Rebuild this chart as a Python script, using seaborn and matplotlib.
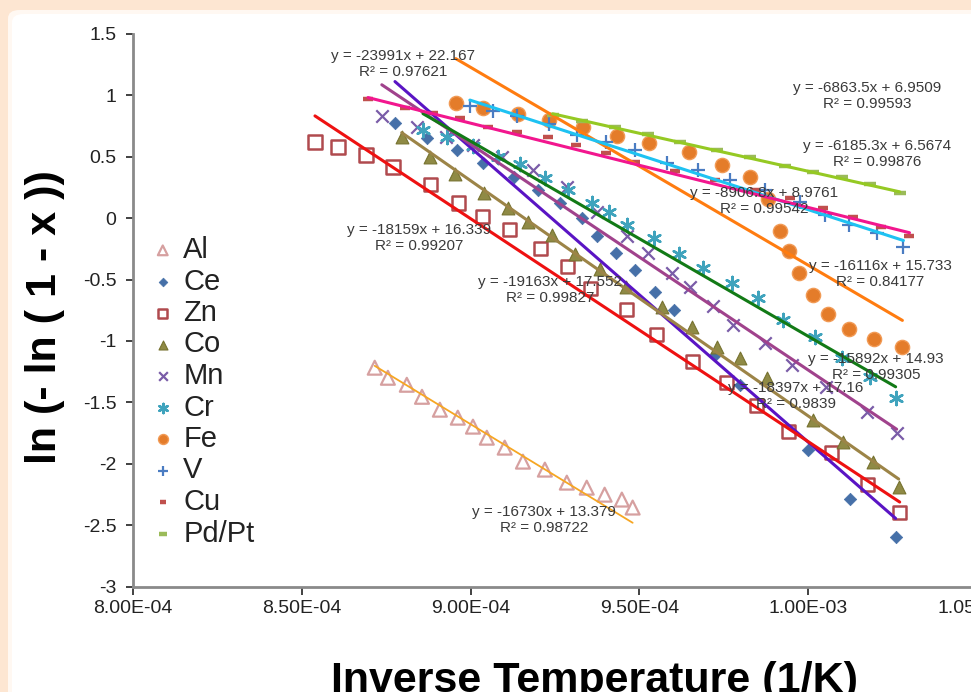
import numpy as np
import matplotlib
matplotlib.use("Agg")
import matplotlib.pyplot as plt
from matplotlib.patches import FancyBboxPatch
from matplotlib.ticker import FixedLocator, FuncFormatter
import seaborn as sns

sns.set_style("ticks")
plt.rcParams["font.family"] = ["Liberation Sans", "DejaVu Sans"]
plt.rcParams["axes.unicode_minus"] = False

# ---- data: inverse temperature (1/K) vs ln(-ln(1-x)) ----
metals = ["Al", "Ce", "Zn", "Co", "Mn", "Cr", "Fe", "V", "Cu", "Pd/Pt"]

al_x = [8.716e-4, 8.755e-4, 8.811e-4, 8.856e-4, 8.909e-4, 8.962e-4, 9.007e-4, 9.048e-4,
        9.101e-4, 9.155e-4, 9.220e-4, 9.285e-4, 9.344e-4, 9.397e-4, 9.448e-4, 9.480e-4]
al_y = [-1.218, -1.300, -1.357, -1.455, -1.560, -1.625, -1.698, -1.788,
        -1.869, -1.983, -2.048, -2.154, -2.195, -2.252, -2.292, -2.357]

ce_x = [8.776e-4, 8.870e-4, 8.959e-4, 9.036e-4, 9.128e-4, 9.199e-4, 9.264e-4, 9.329e-4, 9.374e-4,
        9.430e-4, 9.486e-4, 9.545e-4, 9.602e-4, 9.723e-4, 9.797e-4, 9.998e-4, 1.0123e-3, 1.0259e-3]
ce_y = [0.775, 0.653, 0.556, 0.450, 0.336, 0.230, 0.124, 0.002, -0.144,
        -0.282, -0.421, -0.600, -0.746, -1.112, -1.356, -1.885, -2.284, -2.593]

zn_x = [8.539e-4, 8.607e-4, 8.690e-4, 8.770e-4, 8.882e-4, 8.965e-4, 9.036e-4, 9.116e-4, 9.208e-4, 9.288e-4,
        9.356e-4, 9.462e-4, 9.551e-4, 9.658e-4, 9.758e-4, 9.847e-4, 9.942e-4, 1.0069e-3, 1.0176e-3, 1.0271e-3]
zn_y = [0.621, 0.580, 0.515, 0.417, 0.271, 0.124, 0.011, -0.095, -0.250, -0.396,
        -0.575, -0.746, -0.950, -1.169, -1.340, -1.527, -1.739, -1.910, -2.170, -2.398]

co_x = [8.796e-4, 8.879e-4, 8.953e-4, 9.039e-4, 9.110e-4, 9.169e-4, 9.240e-4, 9.308e-4, 9.382e-4, 9.459e-4,
        9.566e-4, 9.655e-4, 9.729e-4, 9.797e-4, 9.877e-4, 1.0013e-3, 1.0102e-3, 1.0191e-3, 1.0268e-3]
co_y = [0.662, 0.499, 0.360, 0.206, 0.084, -0.030, -0.136, -0.290, -0.413, -0.559,
        -0.722, -0.884, -1.047, -1.137, -1.299, -1.641, -1.820, -1.983, -2.186]

mn_x = [8.737e-4, 8.841e-4, 8.927e-4, 9.007e-4, 9.092e-4, 9.184e-4, 9.285e-4, 9.374e-4, 9.462e-4, 9.525e-4,
        9.596e-4, 9.649e-4, 9.717e-4, 9.776e-4, 9.871e-4, 9.951e-4, 1.0054e-3, 1.0173e-3, 1.0262e-3]
mn_y = [0.832, 0.743, 0.662, 0.596, 0.499, 0.393, 0.255, 0.051, -0.144, -0.282,
        -0.445, -0.559, -0.714, -0.868, -1.015, -1.194, -1.373, -1.576, -1.747]

cr_x = [8.859e-4, 8.930e-4, 9.007e-4, 9.081e-4, 9.146e-4, 9.220e-4, 9.288e-4, 9.359e-4, 9.409e-4, 9.462e-4,
        9.542e-4, 9.616e-4, 9.687e-4, 9.773e-4, 9.850e-4, 9.924e-4, 1.0019e-3, 1.0099e-3, 1.0182e-3, 1.0259e-3]
cr_y = [0.718, 0.662, 0.588, 0.499, 0.442, 0.328, 0.230, 0.124, 0.051, -0.055,
        -0.160, -0.290, -0.404, -0.526, -0.648, -0.828, -0.966, -1.137, -1.291, -1.462]

fe_x = [8.956e-4, 9.036e-4, 9.140e-4, 9.231e-4, 9.332e-4, 9.433e-4, 9.528e-4, 9.646e-4, 9.744e-4, 9.827e-4,
        9.880e-4, 9.915e-4, 9.942e-4, 9.972e-4, 1.0013e-3, 1.0060e-3, 1.0120e-3, 1.0194e-3, 1.0279e-3]
fe_y = [0.938, 0.897, 0.849, 0.800, 0.743, 0.670, 0.613, 0.539, 0.434, 0.336,
        0.157, -0.103, -0.266, -0.445, -0.624, -0.779, -0.901, -0.982, -1.047]

v_x = [8.998e-4, 9.066e-4, 9.137e-4, 9.231e-4, 9.314e-4, 9.400e-4, 9.486e-4, 9.581e-4,
       9.673e-4, 9.767e-4, 9.871e-4, 9.975e-4, 1.0049e-3, 1.0122e-3, 1.0205e-3, 1.0282e-3]
v_y = [0.914, 0.873, 0.832, 0.767, 0.678, 0.621, 0.556, 0.450,
       0.393, 0.312, 0.230, 0.133, 0.027, -0.055, -0.120, -0.234]

cu_x = [8.696e-4, 8.805e-4, 8.888e-4, 8.968e-4, 9.051e-4, 9.137e-4, 9.229e-4, 9.311e-4, 9.400e-4,
        9.486e-4, 9.605e-4, 9.723e-4, 9.841e-4, 9.945e-4, 1.0043e-3, 1.0134e-3, 1.0217e-3, 1.0300e-3]
cu_y = [0.971, 0.897, 0.857, 0.816, 0.743, 0.702, 0.662, 0.596, 0.531,
        0.458, 0.385, 0.312, 0.230, 0.165, 0.084, 0.011, -0.071, -0.144]

pd_x = [9.243e-4, 9.329e-4, 9.427e-4, 9.525e-4, 9.619e-4, 9.729e-4,
        9.827e-4, 9.930e-4, 1.0013e-3, 1.0099e-3, 1.0182e-3, 1.0271e-3]
pd_y = [0.841, 0.792, 0.743, 0.686, 0.621, 0.556,
        0.499, 0.426, 0.377, 0.336, 0.279, 0.206]

# linear trendline fits (slope, intercept, R^2)
slopes = [-16730, -23991, -18159, -19163, -18397, -15892, -16116, -8906.8, -6863.5, -6185.3]
intercepts = [13.379, 22.167, 16.339, 17.552, 17.16, 14.93, 15.733, 8.9761, 6.9509, 6.5674]
r_squared = [0.98722, 0.97621, 0.99207, 0.99827, 0.9839, 0.99305, 0.84177, 0.99542, 0.99593, 0.99876]

xs_all = [al_x, ce_x, zn_x, co_x, mn_x, cr_x, fe_x, v_x, cu_x, pd_x]
ys_all = [al_y, ce_y, zn_y, co_y, mn_y, cr_y, fe_y, v_y, cu_y, pd_y]

y_ticks = [1.5, 1, 0.5, 0, -0.5, -1, -1.5, -2, -2.5, -3]
x_ticks = [8.0e-4, 8.5e-4, 9.0e-4, 9.5e-4, 1.0e-3, 1.05e-3]

# ---- styling ----
marker_styles = {
    "Al":    dict(marker="^", s=100, facecolor="none", edgecolor="#d6a0a0", linewidth=1.6),
    "Ce":    dict(marker="D", s=40, color="#4670a8", edgecolor="#4670a8", linewidth=0.5),
    "Zn":    dict(marker="s", s=90, facecolor="none", edgecolor="#b04a4e", linewidth=1.8),
    "Co":    dict(marker="^", s=85, color="#8f8a45", edgecolor="#76722f", linewidth=0.8),
    "Mn":    dict(marker="x", s=80, color="#7a5ca8", linewidth=1.6),
    "Cr":    dict(marker=(6, 2, 0), s=90, color="#3fa3bd", linewidth=1.8),
    "Fe":    dict(marker="o", s=105, color="#e47c2a", edgecolor="#f19a55", linewidth=1.0),
    "V":     dict(marker="+", s=90, color="#4a7cc2", linewidth=1.6),
    "Cu":    dict(marker="_", s=45, color="#c0504d", linewidth=3.2),
    "Pd/Pt": dict(marker="_", s=70, color="#9bbb59", linewidth=3.2),
}
line_styles = {
    "Al": ("#f6a623", 1.3), "Ce": ("#5a14c4", 2.2), "Zn": ("#ee1111", 2.2),
    "Co": ("#9c8447", 2.2), "Mn": ("#a0428c", 2.2), "Cr": ("#127a16", 2.2),
    "Fe": ("#ff7c10", 2.2), "V": ("#1ec2f2", 2.2), "Cu": ("#f2168e", 2.2),
    "Pd/Pt": ("#95c923", 2.2),
}
# centre of each equation block, in pixels from the top-left corner
eq_pos = {
    "Ce": (403, 64), "Cu": (867, 96), "Pd/Pt": (877, 154), "V": (764, 201),
    "Fe": (880, 274), "Cr": (876, 367), "Mn": (796, 396), "Co": (550, 290),
    "Zn": (419, 238), "Al": (544, 520),
}

W, H = 971, 692
fig = plt.figure(figsize=(W / 100, H / 100), dpi=100)
fig.patch.set_facecolor("#fde6d2")
fig.patches.append(FancyBboxPatch((8 / W, -0.1), 1.2, (H - 10) / H + 0.1,
                                  boxstyle="round,pad=0,rounding_size=0.012",
                                  transform=fig.transFigure, facecolor="#fff8f2",
                                  edgecolor="none", zorder=-6))
fig.patches.append(FancyBboxPatch((12 / W, -0.1), 1.2, (H - 14) / H + 0.1,
                                  boxstyle="round,pad=0,rounding_size=0.012",
                                  transform=fig.transFigure, facecolor="white",
                                  edgecolor="none", zorder=-5))

ax = fig.add_axes([133 / W, (H - 586.5) / H, 844 / W, 552.5 / H])
ax.set_facecolor("none")

for name, xs, ys in zip(metals, xs_all, ys_all):
    sns.scatterplot(x=xs, y=ys, ax=ax, label=name, zorder=2, **marker_styles[name])

for name, xs, m, b in zip(metals, xs_all, slopes, intercepts):
    ends = np.array([min(xs), max(xs)])
    col, lw = line_styles[name]
    sns.lineplot(x=ends, y=m * ends + b, ax=ax, color=col, linewidth=lw,
                 legend=False, zorder=3)

for name, m, b, r2 in zip(metals, slopes, intercepts, r_squared):
    px, py = eq_pos[name]
    fig.text(px / W, 1 - py / H, f"y = {m:g}x + {b:g}\nR² = {r2:g}",
             ha="center", va="center", fontsize=11, color="#3a3a3a",
             linespacing=1.15, zorder=5)

ax.set_xlim(8.0e-4, 1.05e-3)
ax.set_ylim(-3, 1.5)
ax.xaxis.set_major_locator(FixedLocator(x_ticks))
ax.yaxis.set_major_locator(FixedLocator(y_ticks))
ax.xaxis.set_major_formatter(FuncFormatter(lambda v, p: f"{v:.2E}"))
ax.yaxis.set_major_formatter(FuncFormatter(lambda v, p: f"{round(v, 2) + 0.0:g}"))
ax.tick_params(axis="both", direction="out", colors="#333333", labelsize=14,
               width=1.3, labelcolor="#222222")
ax.tick_params(axis="x", length=6, pad=4)
ax.tick_params(axis="y", length=5, pad=7)
for s in ["top", "right"]:
    ax.spines[s].set_visible(False)
for s in ["left", "bottom"]:
    ax.spines[s].set_color("#8a8a8a")
    ax.spines[s].set_linewidth(2.0)

ax.set_xlabel("")
ax.set_ylabel("ln (- ln ( 1 - x ))", fontsize=31, fontweight="bold", color="black")
ax.yaxis.label.set(ha="center", va="center", rotation_mode="default")
ax.yaxis.set_label_coords((45 - 133) / 844, (586.5 - 317) / 552.5)
fig.text(594 / W, 1 - 692 / H, "Inverse Temperature (1/K)", ha="center",
         va="baseline", fontsize=31, fontweight="bold", color="black")

leg = ax.legend(loc="upper left", bbox_to_anchor=(154 / W, 1 - 236 / H),
                bbox_transform=fig.transFigure, frameon=False, fontsize=21,
                labelspacing=0.12, handlelength=0.6, handletextpad=0.4,
                borderpad=0, borderaxespad=0, markerscale=0.7)
for t in leg.get_texts():
    t.set_color("#222222")

fig.savefig("out.png", dpi=100)
